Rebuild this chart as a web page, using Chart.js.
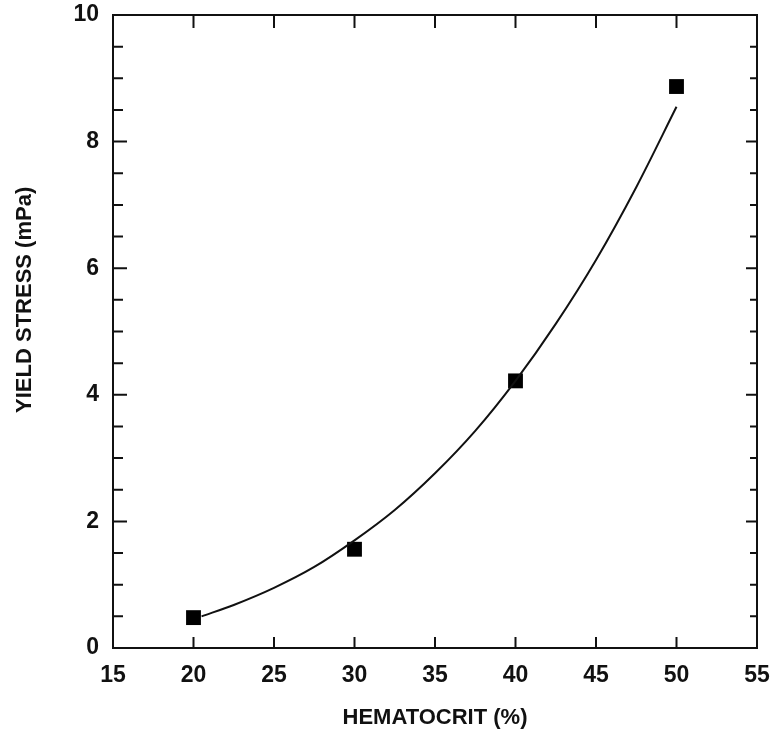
<!DOCTYPE html>
<html>
<head>
<meta charset="utf-8">
<script src="https://cdn.jsdelivr.net/npm/chart.js@4/dist/chart.umd.min.js"></script>
<style>
  html, body { margin: 0; padding: 0; background: #fff; overflow: hidden; }
  #wrap { width: 772px; height: 740px; }
</style>
</head>
<body>
<div id="wrap"><canvas id="c"></canvas></div>
<script>
// measured points
const hematocrit = [20, 30, 40, 50];
const yieldStress = [0.48, 1.56, 4.22, 8.87];

// fitted curve
const fitX = [20.5, 22.5, 25, 27.5, 30, 32.5, 35, 37.5, 40, 42.5, 45, 47.5, 50];
const fitY = [0.5, 0.68, 0.95, 1.28, 1.7, 2.18, 2.76, 3.43, 4.22, 5.12, 6.13, 7.28, 8.55];

const xTicks = [15, 20, 25, 30, 35, 40, 45, 50, 55];
const yTicks = [0, 2, 4, 6, 8, 10];
const yMinorStep = 0.5;

const yTitle = 'YIELD STRESS (mPa)';
const ink = '#111';

const tickFont = { family: '"Liberation Sans", Arial, sans-serif', size: 23, weight: 'bold' };
const titleFont = { family: '"Liberation Sans", Arial, sans-serif', size: 22, weight: 'bold' };

// box frame with inward ticks on all four sides, plus the y title
// (sits a bit above the middle of the axis in the original)
const frame = {
  id: 'frame',
  afterDatasetsDraw(chart) {
    const { ctx, chartArea: a, scales: { x, y } } = chart;
    ctx.save();
    ctx.strokeStyle = ink;
    ctx.lineWidth = 2;
    ctx.strokeRect(a.left, a.top, a.right - a.left, a.bottom - a.top);
    ctx.beginPath();
    xTicks.forEach(v => {
      const px = x.getPixelForValue(v);
      ctx.moveTo(px, a.bottom); ctx.lineTo(px, a.bottom - 11);
      ctx.moveTo(px, a.top); ctx.lineTo(px, a.top + 13);
    });
    for (let v = 0; v <= 10; v += yMinorStep) {
      const py = y.getPixelForValue(v);
      const major = v % 2 === 0;
      ctx.moveTo(a.left, py); ctx.lineTo(a.left + (major ? 14 : 10), py);
      ctx.moveTo(a.right, py); ctx.lineTo(a.right - (major ? 11 : 7), py);
    }
    ctx.stroke();

    ctx.translate(25, y.getPixelForValue(5.5));
    ctx.rotate(-Math.PI / 2);
    ctx.fillStyle = ink;
    ctx.font = `bold ${titleFont.size}px ${titleFont.family}`;
    ctx.textAlign = 'center';
    ctx.textBaseline = 'middle';
    ctx.fillText(yTitle, 0, 0);
    ctx.restore();
  }
};

new Chart(document.getElementById('c'), {
  type: 'scatter',
  data: {
    datasets: [
      {
        label: 'fit',
        data: fitX.map((v, i) => ({ x: v, y: fitY[i] })),
        showLine: true,
        borderColor: ink,
        borderWidth: 2,
        cubicInterpolationMode: 'monotone',
        pointRadius: 0
      },
      {
        label: 'Yield stress',
        data: hematocrit.map((v, i) => ({ x: v, y: yieldStress[i] })),
        pointStyle: 'rect',
        pointRadius: 10.5,
        backgroundColor: '#000',
        borderColor: '#000',
        borderWidth: 0
      }
    ]
  },
  options: {
    responsive: true,
    maintainAspectRatio: false,
    animation: false,
    layout: { padding: { left: 0, top: 15, right: 15, bottom: 0 } },
    plugins: {
      legend: { display: false },
      tooltip: { enabled: false }
    },
    scales: {
      x: {
        type: 'linear',
        min: 15,
        max: 55,
        afterFit: s => { s.height = 92; s.paddingLeft = 0; s.paddingRight = 0; },
        afterBuildTicks: s => { s.ticks = xTicks.map(v => ({ value: v })); },
        grid: { display: false, drawTicks: false },
        border: { display: false },
        ticks: { font: tickFont, color: ink, padding: 14, maxRotation: 0 },
        title: { display: true, text: 'HEMATOCRIT (%)', font: titleFont, color: ink, padding: { top: 0, bottom: 9 } }
      },
      y: {
        type: 'linear',
        min: 0,
        max: 10,
        afterFit: s => { s.width = 113; s.paddingTop = 0; s.paddingBottom = 0; },
        afterBuildTicks: s => { s.ticks = yTicks.map(v => ({ value: v })); },
        grid: { display: false, drawTicks: false },
        border: { display: false },
        ticks: { font: tickFont, color: ink, padding: 14 }
      }
    }
  },
  plugins: [frame]
});
</script>
</body>
</html>
